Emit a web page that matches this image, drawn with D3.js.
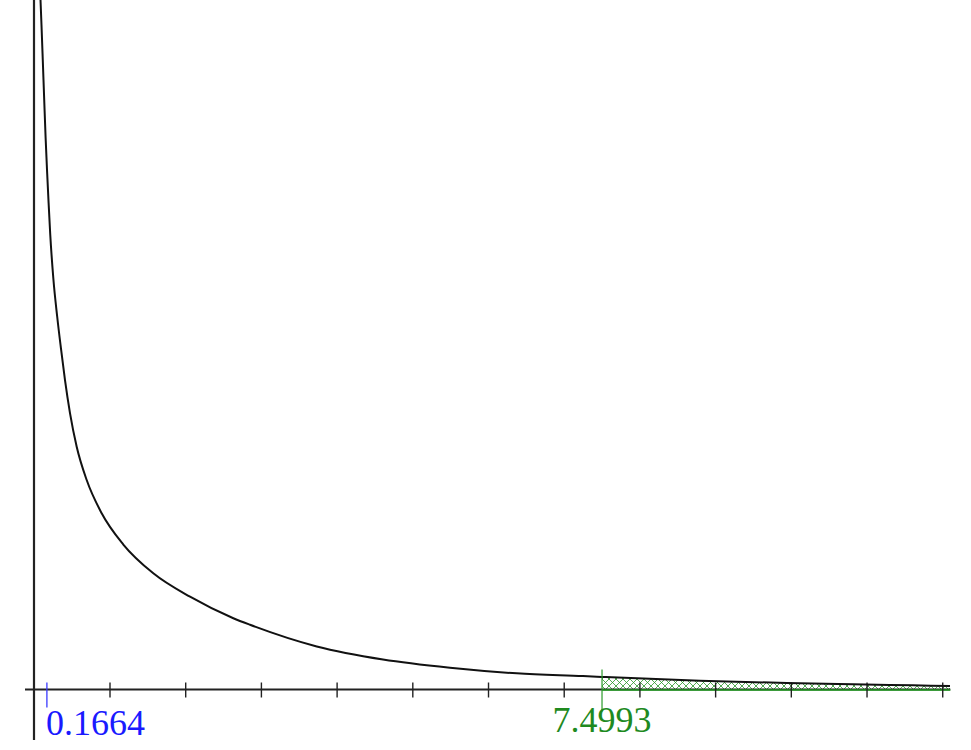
<!DOCTYPE html>
<html>
<head>
<meta charset="utf-8">
<script src="https://cdn.jsdelivr.net/npm/d3@7"></script>
<style>
  body { margin: 0; background: #fff; }
  text { font-family: "Liberation Serif", "Times New Roman", serif; }
</style>
</head>
<body>
<div id="chart-area"></div>
<script>
// curve (x value, density)
let curveX = [0.082, 0.095, 0.112, 0.131, 0.149, 0.168, 0.189, 0.211, 0.251, 0.303, 0.353,
  0.405, 0.472, 0.560, 0.692, 0.890, 1.176, 1.572, 2.057, 2.629, 2.849, 3.731,
  4.606, 5.491, 6.373, 7.248, 7.499, 8.794, 9.943, 10.815, 11.607, 12.096];
let curveY = [0.750, 0.7228, 0.6848, 0.6413, 0.6010, 0.5651, 0.5292, 0.4944, 0.4476, 0.4052, 0.3704,
  0.3367, 0.3004, 0.2641, 0.2279, 0.1917, 0.1577, 0.1264, 0.1009, 0.0775, 0.0704, 0.0468,
  0.0326, 0.0237, 0.0176, 0.0146, 0.0137, 0.0095, 0.0071, 0.0057, 0.0045, 0.0038];

let tickValues = [1, 2, 3, 4, 5, 6, 7, 8, 9, 10, 11, 12];
let statValue = 0.1664;
let critValue = 7.4993;
let statLabel = "0.1664";
let critLabel = "7.4993";

let data = curveX.map((x, i) => ({ x: x, y: curveY[i] }));

let svgW = 971;
let svgH = 750;

let x = d3.scaleLinear()
  .domain([0, 12.1])
  .range([34.3, 950.3]);

let y = d3.scaleLinear()
  .domain([0, 0.75])
  .range([689.5, 0]);

let svg = d3.select("#chart-area")
  .append("svg")
  .attr("width", svgW)
  .attr("height", svgH);

let defs = svg.append("defs");

let pat = defs.append("pattern")
  .attr("id", "hatch")
  .attr("patternUnits", "userSpaceOnUse")
  .attr("width", 7)
  .attr("height", 7);
pat.append("path")
  .attr("d", "M0,0L7,7M7,0L0,7")
  .attr("stroke", "#2a952a")
  .attr("stroke-width", 0.8);

defs.append("clipPath")
  .attr("id", "tail")
  .append("rect")
  .attr("x", x(critValue))
  .attr("y", 0)
  .attr("width", x.range()[1] - x(critValue))
  .attr("height", y(0));

// shaded right tail
let area = d3.area()
  .x(d => x(d.x))
  .y0(y(0))
  .y1(d => y(d.y))
  .curve(d3.curveMonotoneX);

svg.append("path")
  .datum(data)
  .attr("d", area)
  .attr("clip-path", "url(#tail)")
  .attr("fill", "url(#hatch)");

// axes
svg.append("line")
  .attr("x1", 34).attr("x2", 34)
  .attr("y1", 0).attr("y2", 740)
  .attr("stroke", "#222")
  .attr("stroke-width", 2.2);

svg.append("line")
  .attr("x1", 25).attr("x2", x.range()[1])
  .attr("y1", y(0)).attr("y2", y(0))
  .attr("stroke", "#222")
  .attr("stroke-width", 2.2);

svg.append("line")
  .attr("x1", x(critValue)).attr("x2", x.range()[1])
  .attr("y1", y(0) + 0.5).attr("y2", y(0) + 0.5)
  .attr("stroke", "#1f9f1f")
  .attr("stroke-width", 1.6);

svg.selectAll(".tick")
  .data(tickValues)
  .enter()
  .append("line")
  .attr("class", "tick")
  .attr("x1", d => x(d)).attr("x2", d => x(d))
  .attr("y1", y(0) - 7).attr("y2", y(0) + 8)
  .attr("stroke", "#222")
  .attr("stroke-width", 1.4);

// curve
let line = d3.line()
  .x(d => x(d.x))
  .y(d => y(d.y))
  .curve(d3.curveMonotoneX);

svg.append("path")
  .datum(data)
  .attr("d", line)
  .attr("fill", "none")
  .attr("stroke", "#111")
  .attr("stroke-width", 2);

// markers
svg.append("line")
  .attr("x1", x(statValue)).attr("x2", x(statValue))
  .attr("y1", y(0) - 7).attr("y2", y(0) + 18)
  .attr("stroke", "#3a3aff")
  .attr("stroke-width", 1.3);

svg.append("text")
  .attr("x", x(statValue) - 1)
  .attr("y", 735)
  .attr("fill", "#1a1aff")
  .attr("font-size", 36)
  .text(statLabel);

svg.append("line")
  .attr("x1", x(critValue)).attr("x2", x(critValue))
  .attr("y1", y(0) - 20).attr("y2", y(0) + 22)
  .attr("stroke", "#2a9a2a")
  .attr("stroke-width", 1.2);

svg.append("text")
  .attr("x", x(critValue))
  .attr("y", 732)
  .attr("text-anchor", "middle")
  .attr("fill", "#1f8a1f")
  .attr("font-size", 36)
  .text(critLabel);
</script>
</body>
</html>
